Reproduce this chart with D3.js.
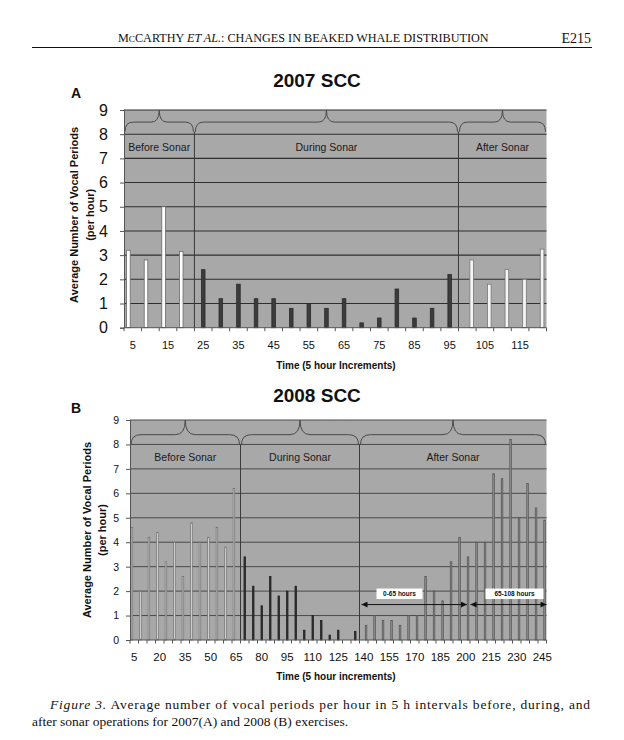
<!DOCTYPE html>
<html>
<head>
<meta charset="utf-8">
<script src="https://cdn.jsdelivr.net/npm/d3@7"></script>
<style>
  body { margin: 0; background: #fff; }
  svg { display: block; }
</style>
</head>
<body>
<div id="chart"></div>
<script>
// Panel A: 2007 SCC
const timesA = [5, 10, 15, 20, 25, 30, 35, 40, 45, 50, 55, 60, 65, 70, 75, 80, 85, 90, 95, 100, 105, 110, 115, 120];
const valuesA = [3.2, 2.8, 5.0, 3.15,
  2.4, 1.2, 1.8, 1.2, 1.2, 0.8, 1.0, 0.8, 1.2, 0.2, 0.4, 1.6, 0.4, 0.8, 2.2,
  2.8, 1.8, 2.4, 2.0, 3.25];
const phaseEndsA = [20, 95, 120];  // last time bin of each phase
const tickLabelsA = [5, 15, 25, 35, 45, 55, 65, 75, 85, 95, 105, 115];

// Panel B: 2008 SCC
const timesB = [5, 10, 15, 20, 25, 30, 35, 40, 45, 50, 55, 60, 65,
  70, 75, 80, 85, 90, 95, 100, 105, 110, 115, 120, 125, 130, 135,
  140, 145, 150, 155, 160, 165, 170, 175, 180, 185, 190, 195, 200, 205, 210, 215, 220, 225, 230, 235, 240, 245];
const valuesB = [4.6, 2.0, 4.2, 4.4, 3.2, 4.0, 2.6, 4.8, 4.0, 4.2, 4.6, 3.8, 6.2,
  3.4, 2.2, 1.4, 2.6, 1.8, 2.0, 2.2, 0.4, 1.0, 0.8, 0.2, 0.4, 0, 0.35,
  0.6, 1.0, 0.8, 0.8, 0.6, 1.0, 1.0, 2.6, 2.0, 1.6, 3.2, 4.2, 3.4, 4.0, 4.0, 6.8, 6.6, 8.2, 5.0, 6.4, 5.4, 4.9];
const phaseEndsB = [65, 135, 245];
const tickLabelsB = [5, 20, 35, 50, 65, 80, 95, 110, 125, 140, 155, 170, 185, 200, 215, 230, 245];
// after-sonar sub-periods: label, first bin, last bin
const hourSpansB = [["0-65 hours", 140, 200], ["65-108 hours", 205, 245]];

const phaseNames = ["Before Sonar", "During Sonar", "After Sonar"];
const yTicks = [0, 1, 2, 3, 4, 5, 6, 7, 8, 9];

const width = 624;
const height = 740;
const sans = "'Liberation Sans', Arial, sans-serif";
const serif = "'Liberation Serif', 'Times New Roman', serif";

const svg = d3.select("#chart").append("svg")
  .attr("width", width)
  .attr("height", height);

const defs = svg.append("defs");
defs.append("marker").attr("id", "headR")
  .attr("viewBox", "0 0 10 10").attr("refX", 10).attr("refY", 5)
  .attr("markerWidth", 7).attr("markerHeight", 6).attr("markerUnits", "userSpaceOnUse")
  .attr("orient", "auto")
  .append("path").attr("d", "M0,0 L10,5 L0,10 Z").attr("fill", "#111");
defs.append("marker").attr("id", "headL")
  .attr("viewBox", "0 0 10 10").attr("refX", 0).attr("refY", 5)
  .attr("markerWidth", 7).attr("markerHeight", 6).attr("markerUnits", "userSpaceOnUse")
  .attr("orient", "auto")
  .append("path").attr("d", "M10,0 L0,5 L10,10 Z").attr("fill", "#111");

// running head
const head = svg.append("text")
  .attr("x", 118).attr("y", 42)
  .attr("font-family", serif).attr("font-size", 12.2).attr("fill", "#111");
head.append("tspan").text("M");
head.append("tspan").attr("font-size", 9.2).text("C");
head.append("tspan").text("CARTHY ");
head.append("tspan").attr("font-style", "italic").text("ET AL.");
head.append("tspan").text(": CHANGES IN BEAKED WHALE DISTRIBUTION");
svg.append("text")
  .attr("x", 591).attr("y", 43).attr("text-anchor", "end")
  .attr("font-family", serif).attr("font-size", 14).attr("fill", "#111")
  .text("E215");
svg.append("line")
  .attr("x1", 32).attr("x2", 592).attr("y1", 47.5).attr("y2", 47.5)
  .attr("stroke", "#111").attr("stroke-width", 1);

function drawPanel(cfg) {
  const g = svg.append("g");
  const x = d3.scaleBand().domain(cfg.times).range([cfg.left, cfg.right]).padding(0);
  const y = d3.scaleLinear().domain([0, 9]).range([cfg.bottom, cfg.top]);
  const slot = d3.scaleBand().domain([0, 1, 2]).range([0, x.bandwidth()])
    .paddingInner(0).paddingOuter(cfg.slotPad);
  const phaseOf = t => cfg.phaseEnds.findIndex(e => t <= e);

  // plot area
  g.append("rect")
    .attr("x", cfg.left).attr("y", cfg.top)
    .attr("width", cfg.right - cfg.left).attr("height", cfg.bottom - cfg.top)
    .attr("fill", "#a8a8a8");

  // gridlines
  g.append("g").selectAll("line")
    .data(yTicks.filter(d => d > 0))
    .enter().append("line")
    .attr("x1", cfg.left).attr("x2", cfg.right)
    .attr("y1", d => y(d)).attr("y2", d => y(d))
    .attr("stroke", cfg.gridColor).attr("stroke-width", cfg.gridWidth);

  // bars
  g.append("g").selectAll("rect")
    .data(cfg.times.map((t, i) => ({ t: t, v: cfg.values[i], p: phaseOf(t) })))
    .enter().append("rect")
    .attr("x", d => x(d.t) + slot(d.p) + 0.4)
    .attr("width", slot.bandwidth() - 0.8)
    .attr("y", d => y(d.v))
    .attr("height", d => y(0) - y(d.v))
    .attr("fill", d => cfg.fills[d.p])
    .attr("stroke", d => cfg.strokes[d.p])
    .attr("stroke-width", 0.8);

  // phase separators and braces
  const firsts = cfg.phaseEnds.map((e, i) => i === 0 ? cfg.times[0] : cfg.times[cfg.times.indexOf(cfg.phaseEnds[i - 1]) + 1]);
  const spans = cfg.phaseEnds.map((e, i) => [x(firsts[i]), x(e) + x.bandwidth()]);
  const yEnd = y(cfg.braceEnd), yMid = y(cfg.braceMid), yTip = y(9);
  const r = cfg.braceR;

  g.append("g").selectAll("line")
    .data(spans.slice(1))
    .enter().append("line")
    .attr("x1", d => d[0]).attr("x2", d => d[0])
    .attr("y1", yEnd).attr("y2", y(0))
    .attr("stroke", "#3a3a3a").attr("stroke-width", 1);

  g.append("g").selectAll("path")
    .data(spans)
    .enter().append("path")
    .attr("d", d => {
      const x1 = d[0] + 1, x2 = d[1] - 1, xm = (d[0] + d[1]) / 2;
      return `M${x1},${yEnd} Q${x1},${yMid} ${x1 + r},${yMid} L${xm - r},${yMid} Q${xm},${yMid} ${xm},${yTip}` +
        ` Q${xm},${yMid} ${xm + r},${yMid} L${x2 - r},${yMid} Q${x2},${yMid} ${x2},${yEnd}`;
    })
    .attr("fill", "none").attr("stroke", "#4a4a4a").attr("stroke-width", 1);

  g.append("g").selectAll("text")
    .data(spans)
    .enter().append("text")
    .attr("x", d => (d[0] + d[1]) / 2)
    .attr("y", y(cfg.labelAt))
    .attr("text-anchor", "middle").attr("dominant-baseline", "middle")
    .attr("font-family", sans).attr("font-size", 10.5).attr("fill", "#1a1a1a")
    .text((d, i) => phaseNames[i]);

  // y axis
  const yAxis = g.append("g")
    .attr("transform", `translate(${cfg.left},0)`)
    .call(d3.axisLeft(y).tickValues(yTicks).tickSize(4).tickPadding(cfg.yPad).tickFormat(d3.format("d")));
  yAxis.select(".domain").attr("stroke", "#555");
  yAxis.selectAll(".tick line").attr("stroke", "#555");
  yAxis.selectAll("text").attr("font-family", sans).attr("font-size", cfg.yFont).attr("fill", "#111");

  // x axis: ticks at bin edges, labels at bin centers
  g.append("line")
    .attr("x1", cfg.left).attr("x2", cfg.right)
    .attr("y1", y(0)).attr("y2", y(0))
    .attr("stroke", "#555").attr("stroke-width", 1);
  g.append("g").selectAll("line")
    .data(cfg.times.concat(["end"]))
    .enter().append("line")
    .attr("x1", d => d === "end" ? cfg.right : x(d))
    .attr("x2", d => d === "end" ? cfg.right : x(d))
    .attr("y1", y(0)).attr("y2", y(0) + 3.5)
    .attr("stroke", "#555");
  const xAxis = g.append("g")
    .attr("transform", `translate(0,${y(0)})`)
    .call(d3.axisBottom(x).tickValues(cfg.tickLabels).tickSize(0).tickPadding(cfg.xPad));
  xAxis.select(".domain").remove();
  xAxis.selectAll("text").attr("font-family", sans).attr("font-size", cfg.xFont).attr("fill", "#111");

  // titles
  g.append("text")
    .attr("x", 317).attr("y", cfg.titleY).attr("text-anchor", "middle")
    .attr("font-family", sans).attr("font-weight", "bold").attr("font-size", 19).attr("fill", "#111")
    .text(cfg.title);
  g.append("text")
    .attr("x", 71).attr("y", cfg.letterY)
    .attr("font-family", sans).attr("font-weight", "bold").attr("font-size", 14).attr("fill", "#111")
    .text(cfg.letter);
  g.append("text")
    .attr("x", 336).attr("y", cfg.xTitleY).attr("text-anchor", "middle")
    .attr("font-family", sans).attr("font-weight", "bold").attr("font-size", 10).attr("fill", "#111")
    .text(cfg.xTitle);
  const yMidPlot = (cfg.top + cfg.bottom) / 2 + cfg.yTitleShift;
  [["Average Number of Vocal Periods", cfg.yTitleX[0]], ["(per hour)", cfg.yTitleX[1]]].forEach(([s, tx]) => {
    g.append("text")
      .attr("transform", `translate(${tx},${yMidPlot}) rotate(-90)`)
      .attr("text-anchor", "middle").attr("dominant-baseline", "middle")
      .attr("font-family", sans).attr("font-weight", "bold").attr("font-size", 11).attr("fill", "#111")
      .text(s);
  });

  return { x: x, y: y, g: g };
}

drawPanel({
  times: timesA, values: valuesA, phaseEnds: phaseEndsA, tickLabels: tickLabelsA,
  left: 124, right: 546.5, top: 110, bottom: 327.7,
  slotPad: 0.5, gridColor: "#2e2e2e", gridWidth: 1.1,
  fills: ["#ffffff", "#3b3b3b", "#f6f6f6"], strokes: ["#6a6a6a", "#2c2c2c", "#777"],
  braceEnd: 8.1, braceMid: 8.5, braceR: 8, labelAt: 7.4,
  yFont: 16, yPad: 12, xFont: 11, xPad: 14,
  title: "2007 SCC", titleY: 87, letter: "A", letterY: 98,
  xTitle: "Time (5 hour Increments)", xTitleY: 369,
  yTitleX: [75, 91], yTitleShift: -4
});

const panelB = drawPanel({
  times: timesB, values: valuesB, phaseEnds: phaseEndsB, tickLabels: tickLabelsB,
  left: 130, right: 546.5, top: 420, bottom: 640,
  slotPad: 0.35, gridColor: "#4a4a4a", gridWidth: 1,
  fills: ["#f2f2f2", "#333333", "#9c9c9c"], strokes: ["#707070", "#222", "#555"],
  braceEnd: 8, braceMid: 8.4, braceR: 10, labelAt: 7.45,
  yFont: 10.5, yPad: 7, xFont: 11.5, xPad: 13,
  title: "2008 SCC", titleY: 402, letter: "B", letterY: 413,
  xTitle: "Time (5 hour increments)", xTitleY: 680,
  yTitleX: [88, 103], yTitleShift: 0
});

// after-sonar hour spans (panel B)
const arrowY = panelB.y(1.45);
hourSpansB.forEach(([label, t0, t1], i) => {
  const xb = panelB.x;
  const x0 = xb(t0) + (i === 0 ? 2 : 0.5);
  const x1 = xb(t1) + xb.bandwidth() - (i === 0 ? 3 : 0);
  panelB.g.append("line")
    .attr("x1", x0).attr("x2", x1).attr("y1", arrowY).attr("y2", arrowY)
    .attr("stroke", "#111").attr("stroke-width", 1)
    .attr("marker-start", "url(#headL)").attr("marker-end", "url(#headR)");
  const bw = i === 0 ? 46 : 58;
  panelB.g.append("rect")
    .attr("x", x0 + 15).attr("y", arrowY - 16).attr("width", bw).attr("height", 10.5)
    .attr("fill", "#fff");
  panelB.g.append("text")
    .attr("x", x0 + 15 + bw / 2).attr("y", arrowY - 10.5)
    .attr("text-anchor", "middle").attr("dominant-baseline", "middle")
    .attr("font-family", sans).attr("font-weight", "bold").attr("font-size", 6.5).attr("fill", "#111")
    .text(label);
});

// caption
const cap = svg.append("text")
  .attr("x", 50).attr("y", 709)
  .attr("font-family", serif).attr("font-size", 13.5).attr("fill", "#111")
  .attr("textLength", 540).attr("lengthAdjust", "spacing");
cap.append("tspan").attr("font-style", "italic").text("Figure 3.");
cap.append("tspan").text("  Average number of vocal periods per hour in 5 h intervals before, during, and");
svg.append("text")
  .attr("x", 32).attr("y", 726)
  .attr("font-family", serif).attr("font-size", 13.5).attr("fill", "#111")
  .text("after sonar operations for 2007(A) and 2008 (B) exercises.");
</script>
</body>
</html>
